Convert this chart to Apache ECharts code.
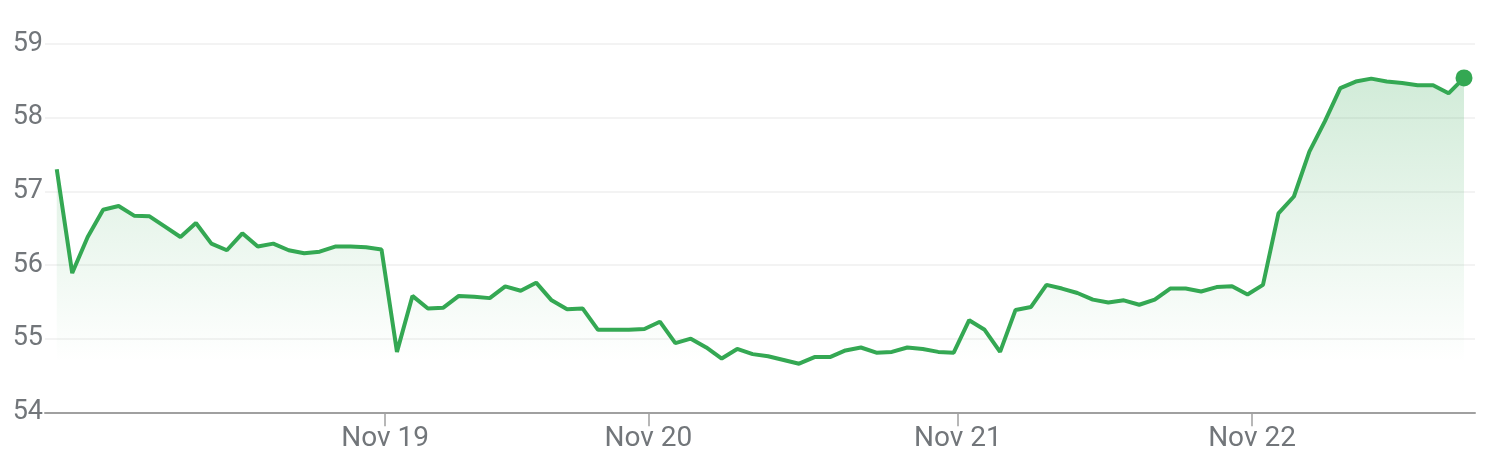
<!DOCTYPE html>
<html>
<head>
<meta charset="utf-8">
<script src="https://cdn.jsdelivr.net/npm/echarts@6/dist/echarts.min.js"></script>
<style>
  html, body { margin: 0; padding: 0; background: #ffffff; }
  #chart { width: 1500px; height: 457px; }
</style>
</head>
<body>
<div id="chart"></div>
<script>
// Price readings, one per equally spaced sample
const prices = [
  57.30, 55.89, 56.38, 56.75, 56.80, 56.67, 56.66, 56.52, 56.38, 56.57,
  56.29, 56.20, 56.43, 56.25, 56.29, 56.20, 56.16, 56.18, 56.25, 56.25,
  56.24, 56.21, 54.82, 55.58, 55.41, 55.42, 55.58, 55.57, 55.55, 55.71,
  55.65, 55.76, 55.52, 55.40, 55.41, 55.12, 55.12, 55.12, 55.13, 55.23,
  54.94, 55.00, 54.88, 54.73, 54.86, 54.79, 54.76, 54.71, 54.66, 54.75,
  54.75, 54.84, 54.88, 54.81, 54.82, 54.88, 54.86, 54.82, 54.81, 55.25,
  55.12, 54.82, 55.39, 55.43, 55.73, 55.68, 55.62, 55.53, 55.49, 55.52,
  55.46, 55.53, 55.68, 55.68, 55.64, 55.70, 55.71, 55.60, 55.73, 56.70,
  56.93, 57.54, 57.95, 58.40, 58.49, 58.53, 58.49, 58.47, 58.44, 58.44,
  58.33, 58.54
];
// Day boundaries, expressed in sample positions
const dayLabels = ['Nov 19', 'Nov 20', 'Nov 21', 'Nov 22'];
const dayTickIndex = [21.23, 38.26, 58.27, 77.29];
const yTicks = [54, 55, 56, 57, 58, 59];

const seriesData = prices.map((v, i) => [i, v]);
const lastPoint = seriesData[seriesData.length - 1];

const chart = echarts.init(document.getElementById('chart'), null, { renderer: 'canvas' });
const green = '#34a853';
chart.setOption({
  animation: false,
  backgroundColor: '#ffffff',
  grid: { left: 45, right: 25, top: 44, bottom: 44.7, containLabel: false },
  xAxis: {
    type: 'value',
    min: -0.76,
    max: prices.length - 1 + 0.71,
    axisLine: { show: true, lineStyle: { color: '#a0a0a0', width: 2 } },
    axisTick: {
      show: true, customValues: dayTickIndex, length: 14,
      lineStyle: { color: '#a0a0a0', width: 1.5 }
    },
    axisLabel: {
      show: true, customValues: dayTickIndex, margin: 13,
      fontFamily: 'Roboto', fontSize: 28, color: '#72767a',
      formatter: (val) => {
        let best = 0;
        dayTickIndex.forEach((t, k) => { if (Math.abs(t - val) < Math.abs(dayTickIndex[best] - val)) best = k; });
        return dayLabels[best];
      }
    },
    splitLine: { show: false }
  },
  yAxis: {
    type: 'value',
    min: yTicks[0],
    max: yTicks[yTicks.length - 1],
    interval: 1,
    axisLine: { show: false },
    axisTick: { show: false },
    axisLabel: { margin: 2, fontFamily: 'Roboto', fontSize: 27, color: '#72767a' },
    splitLine: { show: true, lineStyle: { color: '#f3f3f3', width: 2 } }
  },
  series: [
    {
      type: 'line',
      data: seriesData,
      showSymbol: false,
      symbol: 'none',
      lineStyle: { color: green, width: 4 },
      itemStyle: { color: green },
      areaStyle: {
        color: new echarts.graphic.LinearGradient(0, 0, 0, 1, [
          { offset: 0, color: 'rgba(52,168,83,0.32)' },
          { offset: 0.85, color: 'rgba(52,168,83,0.0)' },
          { offset: 1, color: 'rgba(52,168,83,0.0)' }
        ])
      },
      z: 2
    },
    {
      type: 'scatter',
      data: [lastPoint],
      symbol: 'circle',
      symbolSize: 17,
      itemStyle: { color: green, opacity: 1 },
      z: 3
    }
  ]
});
</script>
</body>
</html>
